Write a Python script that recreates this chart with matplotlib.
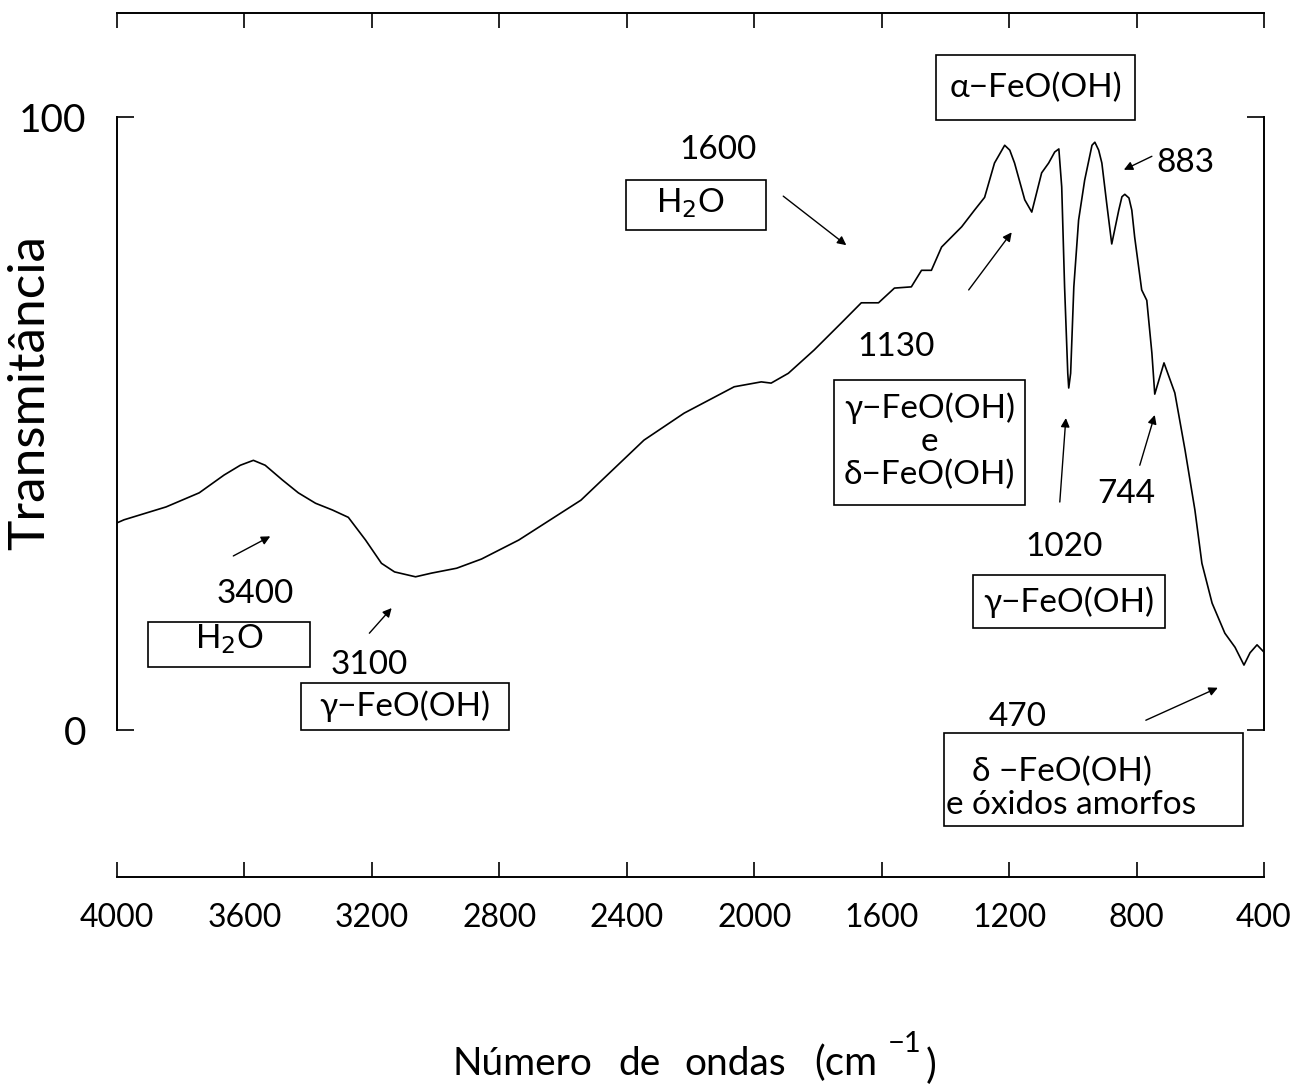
import numpy as np
import matplotlib
matplotlib.use("Agg")
import matplotlib.pyplot as plt
import matplotlib.patches as patches

plt.rcParams['font.family'] = ['Lato', 'DejaVu Sans']

# IR spectrum (wavenumber in cm-1, transmittance in %)
wavenumber = [4000, 3978, 3846, 3742, 3664, 3613, 3572, 3535, 3481, 3431,
              3377, 3324, 3274, 3220, 3170, 3129, 3063, 3013, 2934, 2856,
              2739, 2544, 2346, 2220, 2063, 1978, 1947, 1893, 1812, 1727,
              1664, 1610, 1560, 1507, 1475, 1444, 1412, 1349, 1309, 1277,
              1246, 1214, 1198, 1183, 1151, 1129, 1098, 1076, 1057, 1044,
              1035, 1026, 1016, 1013, 1007, 997, 982, 963, 940, 931,
              919, 909, 894, 878, 856, 846, 837, 824, 815, 806,
              784, 768, 752, 743, 714, 680, 648, 617, 595, 563,
              523, 491, 463, 444, 422, 400]
transmit = [33.8, 34.3, 36.4, 38.7, 41.6, 43.2, 44.0, 43.2, 40.8, 38.7,
            37.0, 35.9, 34.7, 31.0, 27.2, 25.8, 25.0, 25.6, 26.4, 27.9,
            31.0, 37.5, 47.3, 51.7, 56.0, 56.8, 56.6, 58.2, 62.0, 66.4,
            69.7, 69.7, 72.1, 72.3, 75.0, 75.0, 78.8, 82.1, 84.8, 86.9,
            92.5, 95.4, 94.6, 92.5, 86.5, 84.5, 90.9, 92.5, 94.3, 94.8,
            88.6, 72.3, 58.2, 55.8, 58.2, 72.3, 83.2, 89.7, 95.4, 95.9,
            94.6, 92.5, 86.0, 79.3, 84.8, 87.0, 87.4, 86.8, 84.8, 80.4,
            71.8, 70.1, 61.5, 54.8, 59.9, 55.0, 45.7, 35.9, 27.2, 20.7,
            15.8, 13.5, 10.6, 12.6, 13.9, 12.7]

x_ticks = [4000, 3600, 3200, 2800, 2400, 2000, 1600, 1200, 800, 400]
y_ticks = [0, 100]

W, H = 1303, 1088
fig = plt.figure(figsize=(W / 100, H / 100), dpi=100)

# separate frame carrying the wavenumber scale (top and bottom lines)
axx = fig.add_axes([0.0898, 0.1940, 0.8803, 0.7941])
axx.set_xlim(4000, 400)
axx.set_ylim(0, 1)
axx.set_facecolor('none')
for s in ['left', 'right']:
    axx.spines[s].set_visible(False)
for s in ['top', 'bottom']:
    axx.spines[s].set_linewidth(1.4)
axx.set_xticks(x_ticks)
axx.set_xticklabels([str(t) for t in x_ticks], fontsize=23)
axx.set_yticks([])
axx.tick_params(axis='x', direction='in', length=11, width=1.2,
                top=True, bottom=True, labeltop=False, pad=19)

# main plot area
ax = fig.add_axes([0.0898, 0.3290, 0.8803, 0.5634])
ax.set_facecolor('none')
ax.set_xlim(4000, 400)
ax.set_ylim(0, 100)
ax.spines['top'].set_visible(False)
ax.spines['bottom'].set_visible(False)
for s in ['left', 'right']:
    ax.spines[s].set_linewidth(1.4)
ax.set_xticks([])
ax.set_yticks(y_ticks)
ax.set_yticklabels([str(t) for t in y_ticks], fontsize=28)
ax.tick_params(axis='y', direction='in', length=12, width=1.2,
               left=True, right=True, pad=22)

ax.plot(wavenumber, transmit, color='black', lw=1.2)

box_kw = dict(fill=False, lw=1.2, edgecolor='black', clip_on=False)
arr_kw = dict(arrowstyle='-|>', color='black', lw=1.0, mutation_scale=13,
              shrinkA=0, shrinkB=0)
fs = 24

# 3400 / H2O
ax.text(3566, 22.2, '3400', fontsize=fs, ha='center', va='center')
ax.add_patch(patches.Rectangle((3902, 10.3), 3393 - 3902, 17.6 - 10.3, **box_kw))
ax.text(3648, 14.8, 'H$_2$O', fontsize=fs, ha='center', va='center')
ax.annotate('', xy=(3519, 31.6), xytext=(3635, 28.4), arrowprops=arr_kw)

# 3100 / gamma
ax.text(3208, 10.6, '3100', fontsize=fs, ha='center', va='center')
ax.add_patch(patches.Rectangle((3421, 0), 2771 - 3421, 7.7, **box_kw))
ax.text(3096, 3.9, 'γ−FeO(OH)', fontsize=fs, ha='center', va='center')
ax.annotate('', xy=(3138, 19.9), xytext=(3208, 15.8), arrowprops=arr_kw)

# 1600 / H2O
ax.text(2113, 94.6, '1600', fontsize=fs, ha='center', va='center')
ax.add_patch(patches.Rectangle((2403, 81.6), 1963 - 2403, 89.7 - 81.6, **box_kw))
ax.text(2200, 86.0, 'H$_2$O', fontsize=fs, ha='center', va='center')
ax.annotate('', xy=(1711, 79.1), xytext=(1909, 87.1), arrowprops=arr_kw)

# alpha-FeO(OH)
ax.add_patch(patches.Rectangle((1428, 99.5), 806 - 1428, 110.2 - 99.5, **box_kw))
ax.text(1117, 104.8, 'α−FeO(OH)', fontsize=fs, ha='center', va='center')

# 1130 / gamma e delta
ax.text(1554, 62.5, '1130', fontsize=fs, ha='center', va='center')
ax.add_patch(patches.Rectangle((1749, 36.7), 1151 - 1749, 57.1 - 36.7, **box_kw))
ax.text(1450, 47.1, 'γ−FeO(OH)\ne\nδ−FeO(OH)', fontsize=fs, ha='center',
        va='center', linespacing=1.1)
ax.annotate('', xy=(1192, 81.2), xytext=(1327, 71.8), arrowprops=arr_kw)

# 883
ax.text(648, 92.5, '883', fontsize=fs, ha='center', va='center')
ax.annotate('', xy=(840, 91.4), xytext=(752, 93.6), arrowprops=arr_kw)

# 1020 / gamma
ax.text(1029, 29.9, '1020', fontsize=fs, ha='center', va='center')
ax.add_patch(patches.Rectangle((1315, 16.6), 711 - 1315, 25.3 - 16.6, **box_kw))
ax.text(1013, 20.9, 'γ−FeO(OH)', fontsize=fs, ha='center', va='center')
ax.annotate('', xy=(1022, 50.9), xytext=(1041, 37.2), arrowprops=arr_kw)

# 744
ax.text(831, 38.5, '744', fontsize=fs, ha='center', va='center')
ax.annotate('', xy=(743, 51.4), xytext=(790, 43.2), arrowprops=arr_kw)

# 470 / delta e oxidos amorfos
ax.text(1173, 2.1, '470', fontsize=fs, ha='center', va='center')
ax.annotate('', xy=(545, 6.9), xytext=(771, 1.6), arrowprops=arr_kw)
ax.add_patch(patches.Rectangle((1403, -15.7), 466 - 1403, 15.2, **box_kw))
ax.text(1035, -6.9, 'δ −FeO(OH)', fontsize=fs, ha='center', va='center',
        clip_on=False)
ax.text(1397, -12.2, 'e óxidos amorfos', fontsize=fs, ha='left', va='center',
        clip_on=False)

# axis titles
fig.text(30 / W, 1 - 392 / H, 'Transmitância', fontsize=37,
         rotation=90, ha='center', va='center')
base = 1 - 1075 / H
fig.text(453 / W, base, 'Número', fontsize=28, ha='left', va='baseline')
fig.text(618 / W, base, 'de', fontsize=28, ha='left', va='baseline')
fig.text(684 / W, base, 'ondas', fontsize=28, ha='left', va='baseline')
fig.text(814 / W, base, '(cm', fontsize=29, ha='left', va='baseline')
fig.text(888 / W, 1 - 1044 / H, '−1', fontsize=21, ha='left', va='center')
fig.text(926 / W, 1 - 1066 / H, ')', fontsize=29, ha='left', va='center')

fig.savefig('out.png', dpi=100, facecolor='white')
